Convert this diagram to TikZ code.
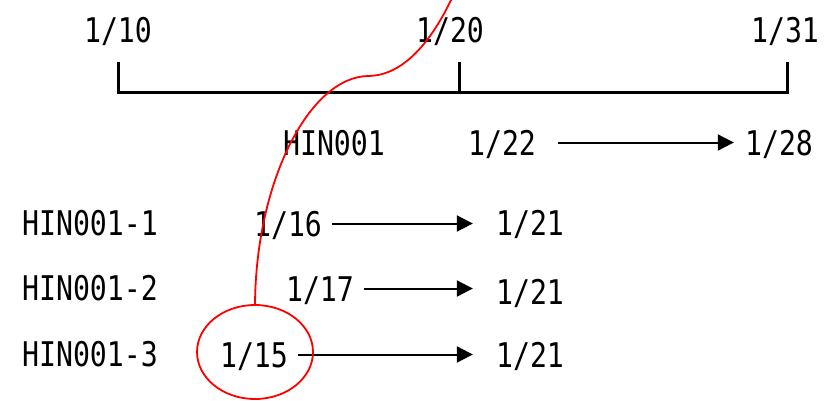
\documentclass[tikz,border=0pt]{standalone}
\usepackage{fontspec}
\usepackage{tikz}
\usetikzlibrary{arrows.meta,shapes.geometric}

\newfontfamily\gothic[FakeStretch=0.83]{DejaVu Sans Mono}

\begin{document}
\begin{tikzpicture}[
x=1pt, y=-1pt,
lbl/.style={font=\gothic\fontsize{34}{38}\selectfont, inner sep=0pt, text height=25pt, text depth=0pt, anchor=base},
axis/.style={line width=3pt},
arrow/.style={-{Triangle[length=16pt,width=16pt]}, line width=2pt, shorten <=10pt, shorten >=23pt},
redline/.style={red, line width=1.8pt} ]

\useasboundingbox (0,0) rectangle (825,400);

% time axis
\node[lbl] (d10) at (118,42) {1/10};
\node[lbl] (d20) at (450,42) {1/20};
\node[lbl] (d31) at (785,42) {1/31};

\coordinate (t10) at (118,92);
\coordinate (t20) at (459,92);
\coordinate (t31) at (787,92);

\draw[axis] ([yshift=30pt]t10) -- (t10) -- (t31) -- ([yshift=30pt]t31);
\draw[axis] (t20) -- ([yshift=30pt]t20);

% parent item
\node[lbl] (hin) at (334,155) {HIN001};
\node[lbl] (d22) at (502,155) {1/22};
\node[lbl] (d28) at (779,155) {1/28};

% child items
\node[lbl] (h1) at (90,235) {HIN001-1};
\node[lbl] (d16) at (288,236) {1/16};
\node[lbl] (r1) at (530,235) {1/21};

\node[lbl] (h2) at (90,300) {HIN001-2};
\node[lbl] (d17) at (320,301) {1/17};
\node[lbl] (r2) at (530,304) {1/21};

\node[lbl] (h3) at (90,366) {HIN001-3};
\node[lbl] (d15) at (254,367) {1/15};
\node[lbl] (r3) at (530,367) {1/21};

\draw[arrow, shorten <=22pt, shorten >=11pt] (d22.east) -- (d22.east -| d28.west);
\draw[arrow] (d16.east) -- (d16.east -| r1.west);
\draw[arrow] (d17.east) -- (d17.east -| r2.west);
\draw[arrow] (d15.east) -- (d15.east -| r3.west);

% highlight
\node[redline, draw, ellipse, minimum width=116pt, minimum height=94pt] (hl) at (255,352) {};
\draw[redline] (hl.north) .. controls (256,180) and (310,77) .. (368,76)
  .. controls (395,76) and (425,55) .. (452,-2);

\end{tikzpicture}
\end{document}
